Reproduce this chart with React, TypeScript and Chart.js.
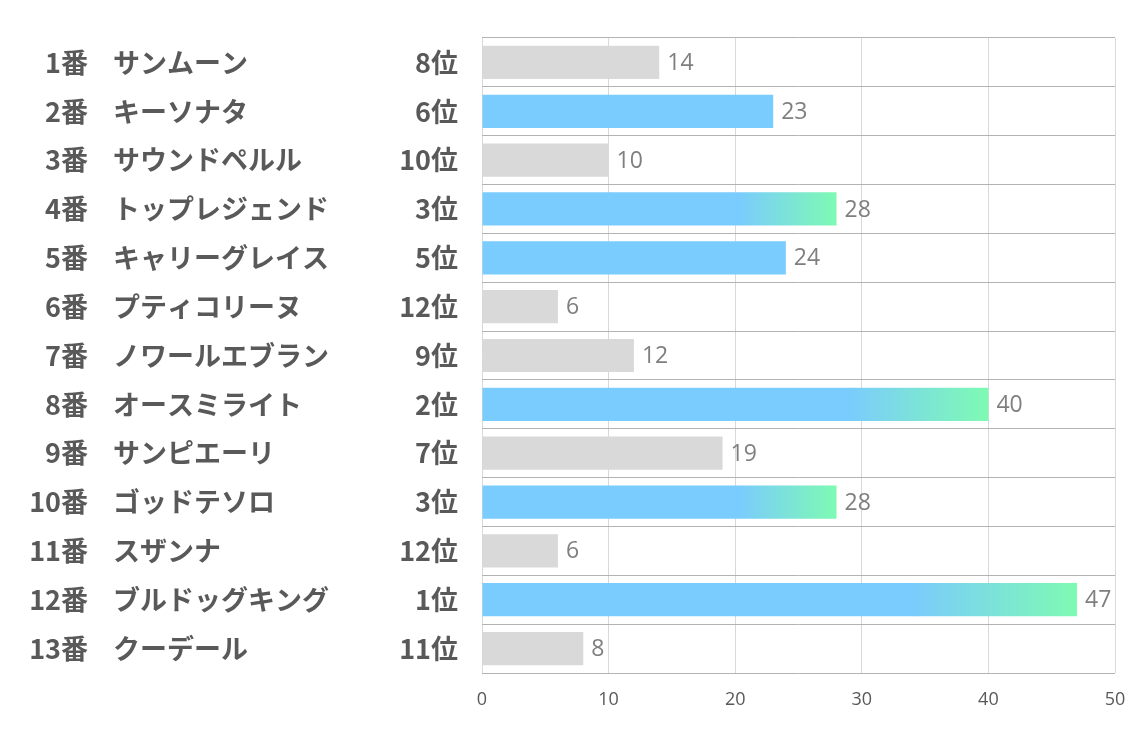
import React, { useEffect, useRef } from "react";
import { Chart, registerables } from "chart.js";

Chart.register(...registerables);

const horseNumbers = ["1番", "2番", "3番", "4番", "5番", "6番", "7番", "8番", "9番", "10番", "11番", "12番", "13番"];
const horseNames = [
  "サンムーン",
  "キーソナタ",
  "サウンドペルル",
  "トップレジェンド",
  "キャリーグレイス",
  "プティコリーヌ",
  "ノワールエブラン",
  "オースミライト",
  "サンピエーリ",
  "ゴッドテソロ",
  "スザンナ",
  "ブルドッグキング",
  "クーデール",
];
const ranks = ["8位", "6位", "10位", "3位", "5位", "12位", "9位", "2位", "7位", "3位", "12位", "1位", "11位"];
const values = [14, 23, 10, 28, 24, 6, 12, 40, 19, 28, 6, 47, 8];
const rankNumbers = [8, 6, 10, 3, 5, 12, 9, 2, 7, 3, 12, 1, 11];
const xTicks = [0, 10, 20, 30, 40, 50];

const BLUE = "#7acbfe";
const GREEN = "#7efab3";
const GRAY = "#d9d9d9";

const labelPlugin = {
  id: "sideLabels",
  afterDatasetsDraw(chart: any) {
    const ctx = chart.ctx;
    const y = chart.scales.y;
    const x = chart.scales.x;
    ctx.save();
    ctx.textBaseline = "middle";
    // left labels
    ctx.fillStyle = "#595959";
    ctx.font = "bold 27px 'Noto Sans CJK JP'";
    horseNumbers.forEach((n, i) => {
      const py = y.getPixelForValue(i);
      ctx.textAlign = "right";
      ctx.fillText(n, 88, py);
      ctx.textAlign = "left";
      ctx.fillText(horseNames[i], 113, py);
      ctx.textAlign = "right";
      ctx.fillText(ranks[i], 458, py);
    });
    // value labels
    ctx.fillStyle = "#7f7f7f";
    ctx.font = "23px 'Open Sans'";
    ctx.textAlign = "left";
    values.forEach((v, i) => {
      const py = y.getPixelForValue(i);
      const px = x.getPixelForValue(v);
      ctx.fillText(String(v), px + 8, py + 1);
    });
    ctx.restore();
  },
};

export default function App() {
  const ref = useRef<HTMLCanvasElement>(null);

  useEffect(() => {
    document.body.style.margin = "0";
    const canvas = ref.current!;
    const chart = new Chart(canvas, {
      type: "bar",
      data: {
        labels: horseNumbers.map((n, i) => n + "　" + horseNames[i]),
        datasets: [
          {
            data: values,
            barPercentage: 0.68,
            categoryPercentage: 1,
            borderWidth: 0,
            backgroundColor: (c: any) => {
              const i = c.dataIndex;
              const r = rankNumbers[i];
              if (r > 6) return GRAY;
              if (r > 3) return BLUE;
              const chartObj = c.chart;
              const xs = chartObj.scales && chartObj.scales.x;
              if (!chartObj.chartArea || !xs) return BLUE;
              const x0 = xs.getPixelForValue(0);
              const x1 = xs.getPixelForValue(values[i]);
              const g = chartObj.ctx.createLinearGradient(x0, 0, x1, 0);
              g.addColorStop(0, BLUE);
              g.addColorStop(0.72, BLUE);
              g.addColorStop(1, GREEN);
              return g;
            },
          },
        ],
      },
      options: {
        indexAxis: "y",
        animation: false,
        responsive: false,
        maintainAspectRatio: false,
        layout: { padding: { left: 482, right: 19, top: 38, bottom: 0 } },
        plugins: {
          legend: { display: false },
          tooltip: { enabled: false },
        },
        scales: {
          x: {
            min: 0,
            max: 50,
            afterBuildTicks: (s: any) => {
              s.ticks = xTicks.map((v) => ({ value: v }));
            },
            afterFit: (s: any) => {
              s.height = 64;
            },
            grid: {
              color: "#d9d9d9",
              lineWidth: 1,
              drawTicks: true,
              tickLength: 14,
              tickColor: "rgba(0,0,0,0)",
            },
            border: { display: false },
            ticks: {
              padding: 2,
              color: "#595959",
              font: { family: "'Open Sans'", size: 18 },
            },
          },
          y: {
            afterFit: (s: any) => {
              s.width = 0;
            },
            grid: { color: "#b3b3b3", lineWidth: 1, drawTicks: false, offset: true },
            border: { display: false },
            ticks: { display: false },
          },
        },
      },
      plugins: [labelPlugin],
    } as any);
    return () => chart.destroy();
  }, []);

  return (
    <div style={{ position: "absolute", left: 0, top: 0, width: 1134, height: 737, background: "#fff" }}>
      <canvas ref={ref} width={1134} height={737} style={{ width: 1134, height: 737 }} />
    </div>
  );
}
